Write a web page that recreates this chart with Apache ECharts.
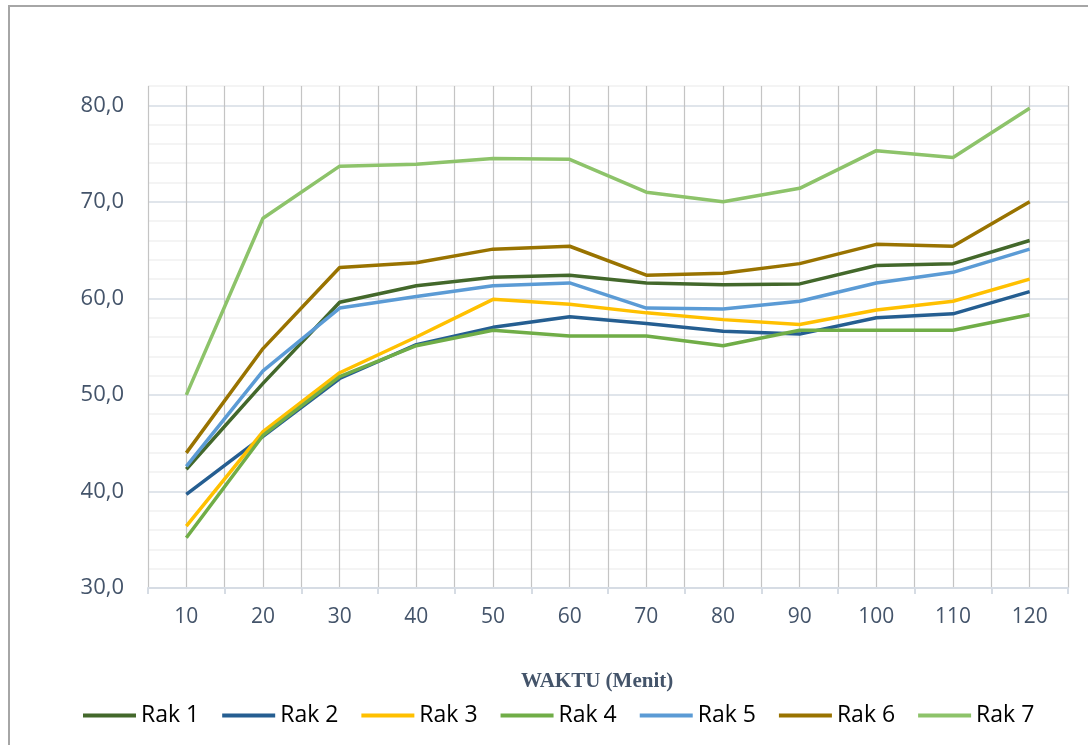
<!DOCTYPE html>
<html>
<head>
<meta charset="utf-8">
<script src="https://cdn.jsdelivr.net/npm/echarts@6/dist/echarts.min.js"></script>
<style>
  html, body { margin: 0; padding: 0; background: #ffffff; overflow: hidden; }
  #main { width: 1088px; height: 745px; }
  #frame {
    position: absolute; left: 8px; top: 5px; width: 1100px; height: 760px;
    border-top: 2px solid #a6a6a6; border-left: 2px solid #a6a6a6;
    pointer-events: none;
  }
</style>
</head>
<body>
<div id="main"></div>
<div id="frame"></div>
<script>
// waktu (menit)
var waktu = ['10', '20', '30', '40', '50', '60', '70', '80', '90', '100', '110', '120'];

var rak1 = [42.3, 51.2, 59.6, 61.3, 62.2, 62.4, 61.6, 61.4, 61.5, 63.4, 63.6, 66.0];
var rak2 = [39.7, 45.7, 51.7, 55.2, 57.0, 58.1, 57.4, 56.6, 56.3, 58.0, 58.4, 60.7];
var rak3 = [36.4, 46.2, 52.3, 56.0, 59.9, 59.4, 58.5, 57.8, 57.3, 58.8, 59.7, 62.0];
var rak4 = [35.2, 45.8, 51.9, 55.1, 56.7, 56.1, 56.1, 55.1, 56.7, 56.7, 56.7, 58.3];
var rak5 = [42.6, 52.5, 59.0, 60.2, 61.3, 61.6, 59.0, 58.9, 59.7, 61.6, 62.7, 65.1];
var rak6 = [44.0, 54.8, 63.2, 63.7, 65.1, 65.4, 62.4, 62.6, 63.6, 65.6, 65.4, 70.0];
var rak7 = [50.0, 68.3, 73.7, 73.9, 74.5, 74.4, 71.0, 70.0, 71.4, 75.3, 74.6, 79.7];

var names = ['Rak 1', 'Rak 2', 'Rak 3', 'Rak 4', 'Rak 5', 'Rak 6', 'Rak 7'];
var colors = ['#43682b', '#255e91', '#ffc000', '#70ad47', '#5b9bd5', '#997300', '#8dc36a'];
var values = [rak1, rak2, rak3, rak4, rak5, rak6, rak7];

var chart = echarts.init(document.getElementById('main'));

var series = [];
for (var i = 0; i < names.length; i++) {
  series.push({
    name: names[i],
    type: 'line',
    xAxisIndex: 0,
    symbol: 'none',
    smooth: false,
    data: values[i],
    lineStyle: { width: 3.5, color: colors[i] },
    itemStyle: { color: colors[i] }
  });
}

var option = {
  backgroundColor: '#ffffff',
  animation: false,
  title: {
    text: 'WAKTU (Menit)',
    left: 516,
    top: 666,
    textStyle: {
      fontFamily: 'Liberation Serif',
      fontWeight: 'bold',
      fontSize: 21,
      color: '#44546a'
    }
  },
  legend: {
    data: names,
    left: 78,
    top: 699,
    icon: 'rect',
    itemWidth: 53,
    itemHeight: 4,
    itemGap: 23,
    textStyle: {
      fontFamily: 'Open Sans',
      fontSize: 23,
      color: '#000000'
    }
  },
  grid: {
    left: 148,
    right: 20,
    top: 86,
    bottom: 157
  },
  xAxis: [
    {
      type: 'category',
      data: waktu,
      boundaryGap: true,
      axisLine: { lineStyle: { color: '#d6dce4', width: 2 } },
      axisTick: { show: true, length: 6, lineStyle: { color: '#d6dce4', width: 2 } },
      axisLabel: {
        margin: 19,
        fontFamily: 'Open Sans',
        fontSize: 21,
        color: '#44546a'
      },
      splitLine: { show: false }
    },
    {
      // garis vertikal tiap setengah kategori
      type: 'value',
      min: 0,
      max: 24,
      interval: 1,
      position: 'top',
      axisLine: { show: false },
      axisTick: { show: false },
      axisLabel: { show: false },
      splitLine: { show: true, lineStyle: { color: '#c4c4c4', width: 1.2 } }
    }
  ],
  yAxis: {
    type: 'value',
    min: 30,
    max: 82,
    interval: 2,
    axisLine: { show: false },
    axisTick: { show: false },
    axisLabel: {
      margin: 24,
      fontFamily: 'Open Sans',
      fontSize: 22,
      color: '#44546a',
      formatter: function (v) {
        return v % 10 === 0 ? v.toFixed(1).replace('.', ',') : '';
      }
    },
    splitLine: {
      lineStyle: {
        color: ['#d6dce4', '#f0f0f0', '#f0f0f0', '#f0f0f0', '#f0f0f0'],
        width: 1.5
      }
    }
  },
  series: series
};

chart.setOption(option);
</script>
</body>
</html>
